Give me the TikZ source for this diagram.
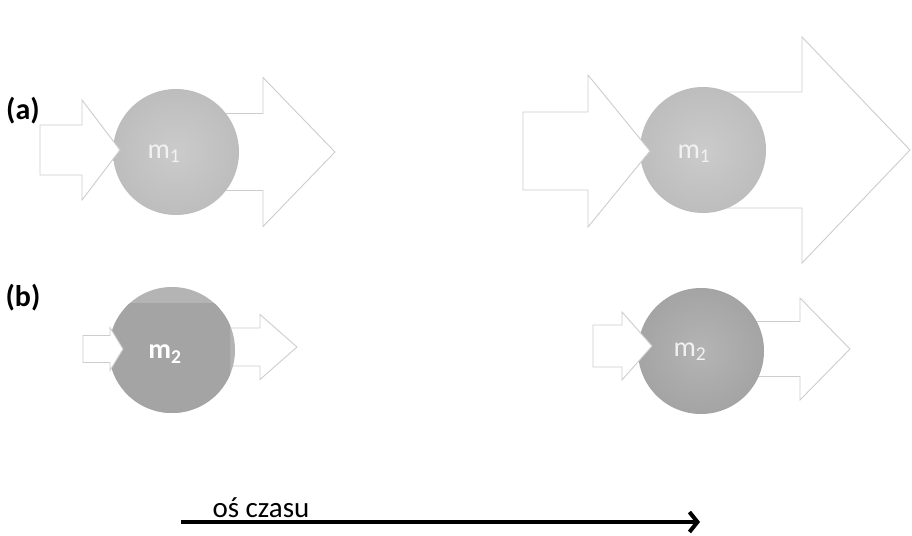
\documentclass[tikz,border=0pt]{standalone}
\usepackage{fontspec}
\setmainfont{Carlito}
\usetikzlibrary{arrows.meta}
\definecolor{arrowline}{HTML}{CDCDCD}
\definecolor{ballA}{HTML}{BDBDBD}
\definecolor{ballAlight}{HTML}{CBCBCB}
\definecolor{ballB}{HTML}{A4A4A4}
\definecolor{ballBlight}{HTML}{B4B4B4}
\definecolor{labelgray}{HTML}{F2F2F2}

% block arrow: x start, x of the head base, x of the tip, y of the axis,
% half height of the shaft, half height of the head
\newcommand{\fatarrow}[6]{%
  \draw[blockarrow] (#1,#4-#5) -- (#2,#4-#5) -- (#2,#4-#6) -- (#3,#4)
    -- (#2,#4+#6) -- (#2,#4+#5) -- (#1,#4+#5) -- cycle;}

\begin{document}
\begin{tikzpicture}[x=1pt,y=-1pt,
  blockarrow/.style={draw=arrowline, fill=white, line width=0.9pt, line join=miter},
  massA/.style={circle, inner sep=0pt, minimum size=126pt, shading=radial,
    inner color=ballAlight, outer color=ballA},
  massB/.style={circle, inner sep=0pt, minimum size=126pt, shading=radial,
    inner color=ballBlight, outer color=ballB},
  masslabel/.style={font=\fontsize{28}{30}\selectfont, text=labelgray},
  partlabel/.style={font=\fontsize{30}{32}\selectfont\bfseries},
  timeaxis/.style={line width=4pt, -{Straight Barb[length=8pt, width=20pt]}}]
\useasboundingbox (0,0) rectangle (912,535);

% ---- (a) ----
\node[partlabel] (la) at (23,111) {(a)};

% before
\fatarrow{176}{263}{335}{152}{38.5}{74.5}
\node[massA] (a1) at (176,152) {};
\fatarrow{40}{82}{120}{150}{25}{50}
\node[masslabel] (ma1) at (164,154) {m\textsubscript{1}};

% after
\fatarrow{703}{802}{910}{150}{58}{113}
\node[massA] (a2) at (703,150) {};
\fatarrow{523}{588}{650}{151}{39}{76}
\node[masslabel] (ma2) at (694,154) {m\textsubscript{1}};

% ---- (b) ----
\node[partlabel] (lb) at (23,298) {(b)};

% before
\fatarrow{172}{260}{297}{347}{19}{32.5}
\node[massB, inner color=ballBlight, outer color=ballBlight] (b1) at (172,350) {};
\begin{scope}
  \clip (100,303) rectangle (230,420);
  \fill[ballB] (b1.center) circle (63);
\end{scope}
\fatarrow{83}{110}{123}{349}{13.5}{21.5}
\node[masslabel, text=white, font=\fontsize{28}{30}\selectfont\bfseries] (mb1) at (165,354) {m\textsubscript{2}};

% after
\fatarrow{701}{800}{850}{349}{27.5}{51}
\node[massB] (b2) at (701,351) {};
\fatarrow{593}{622}{652}{346}{21}{34}
\node[masslabel] (mb2) at (690,352) {m\textsubscript{2}};

% ---- time axis ----
\coordinate (t0) at (181,522);
\coordinate (t1) at (700,522);
\draw[timeaxis] (t0) -- (t1);
\node[font=\fontsize{29}{31}\selectfont, anchor=base] (tl) at (261,517) {oś czasu};
\end{tikzpicture}
\end{document}
